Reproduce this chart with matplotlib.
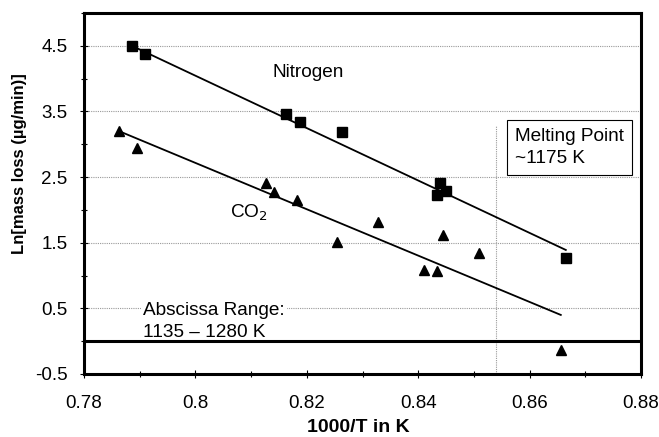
import matplotlib.pyplot as plt
from matplotlib.ticker import MultipleLocator

plt.rcParams['font.family'] = ['Liberation Sans', 'DejaVu Sans']

# Nitrogen data (squares)
n2_x = [0.7886, 0.7910, 0.8163, 0.8188, 0.8263, 0.8439, 0.8434, 0.8450, 0.8665]
n2_y = [4.50, 4.38, 3.46, 3.34, 3.19, 2.41, 2.23, 2.29, 1.27]
n2_fit_x = [0.7886, 0.8665]
n2_fit_y = [4.50, 1.39]

# CO2 data (triangles)
co2_x = [0.7863, 0.7895, 0.8127, 0.8141, 0.8182, 0.8254, 0.8328, 0.8410,
         0.8434, 0.8445, 0.8509, 0.8657]
co2_y = [3.20, 2.95, 2.41, 2.27, 2.15, 1.51, 1.82, 1.09, 1.07, 1.62, 1.34, -0.13]
co2_fit_x = [0.7863, 0.8656]
co2_fit_y = [3.20, 0.40]

melt_x = 0.854
y_ticks = [-0.5, 0.5, 1.5, 2.5, 3.5, 4.5]
x_ticks = [0.78, 0.80, 0.82, 0.84, 0.86, 0.88]

fig = plt.figure(figsize=(6.59, 4.37), dpi=100)
ax = fig.add_axes([84 / 659, 1 - 374 / 437, 557 / 659, 361 / 437])

ax.set_xlim(0.78, 0.88)
ax.set_ylim(-0.5, 5.0)
ax.set_xticks(x_ticks)
ax.set_xticklabels(['0.78', '0.8', '0.82', '0.84', '0.86', '0.88'])
ax.set_yticks(y_ticks)
ax.set_yticklabels(['-0.5', '0.5', '1.5', '2.5', '3.5', '4.5'])
ax.xaxis.set_minor_locator(MultipleLocator(0.01))
ax.yaxis.set_minor_locator(MultipleLocator(0.5))
ax.tick_params(which='both', direction='inout', labelsize=13.5, width=0.8)
ax.tick_params(which='major', length=6)
ax.tick_params(which='minor', length=4)
ax.tick_params(axis='y', pad=9)
ax.tick_params(axis='x', pad=12)

for s in ax.spines.values():
    s.set_linewidth(2.2)

# dotted grid, thick zero line and the melting point marker
for yv in y_ticks[1:]:
    ax.axhline(yv, color='#999999', lw=0.8, ls=(0, (1, 1)), zorder=0)
ax.axhline(0, color='black', lw=2.2, zorder=4)
ax.plot([melt_x, melt_x], [-0.5, 3.28], color='#999999', lw=0.8,
        ls=(0, (1, 1)), zorder=0)

ax.plot(n2_fit_x, n2_fit_y, color='black', lw=1.3, zorder=2)
ax.plot(co2_fit_x, co2_fit_y, color='black', lw=1.3, zorder=2)
ax.plot(n2_x, n2_y, 's', color='black', ms=7, zorder=3, clip_on=False)
ax.plot(co2_x, co2_y, '^', color='black', ms=7, zorder=3, clip_on=False)

ax.text(0.8139, 4.10, 'Nitrogen', fontsize=13.7, va='center', ha='left')
ax.text(0.8062, 1.95, 'CO$_2$', fontsize=13.7, va='center', ha='left')
ax.text(0.8574, 2.95, 'Melting Point\n~1175 K', fontsize=13.7, va='center',
        ha='left', linespacing=1.35,
        bbox=dict(boxstyle='square,pad=0.42', fc='white', ec='black', lw=0.8))
ax.text(0.7906, 0.30, 'Abscissa Range:\n1135 \u2013 1280 K', fontsize=13.7,
        va='center', ha='left', linespacing=1.35,
        bbox=dict(boxstyle='square,pad=0.1', fc='white', ec='none'))

ax.set_xlabel('1000/T in K', fontsize=14, fontweight='bold')
ax.xaxis.set_label_coords(0.492, -0.125)
ax.set_ylabel('Ln[mass loss (\u00b5g/min)]', fontsize=12, fontweight='bold')
ax.yaxis.set_label_coords(-0.102, 0.584)

fig.savefig('out.png', dpi=100)
